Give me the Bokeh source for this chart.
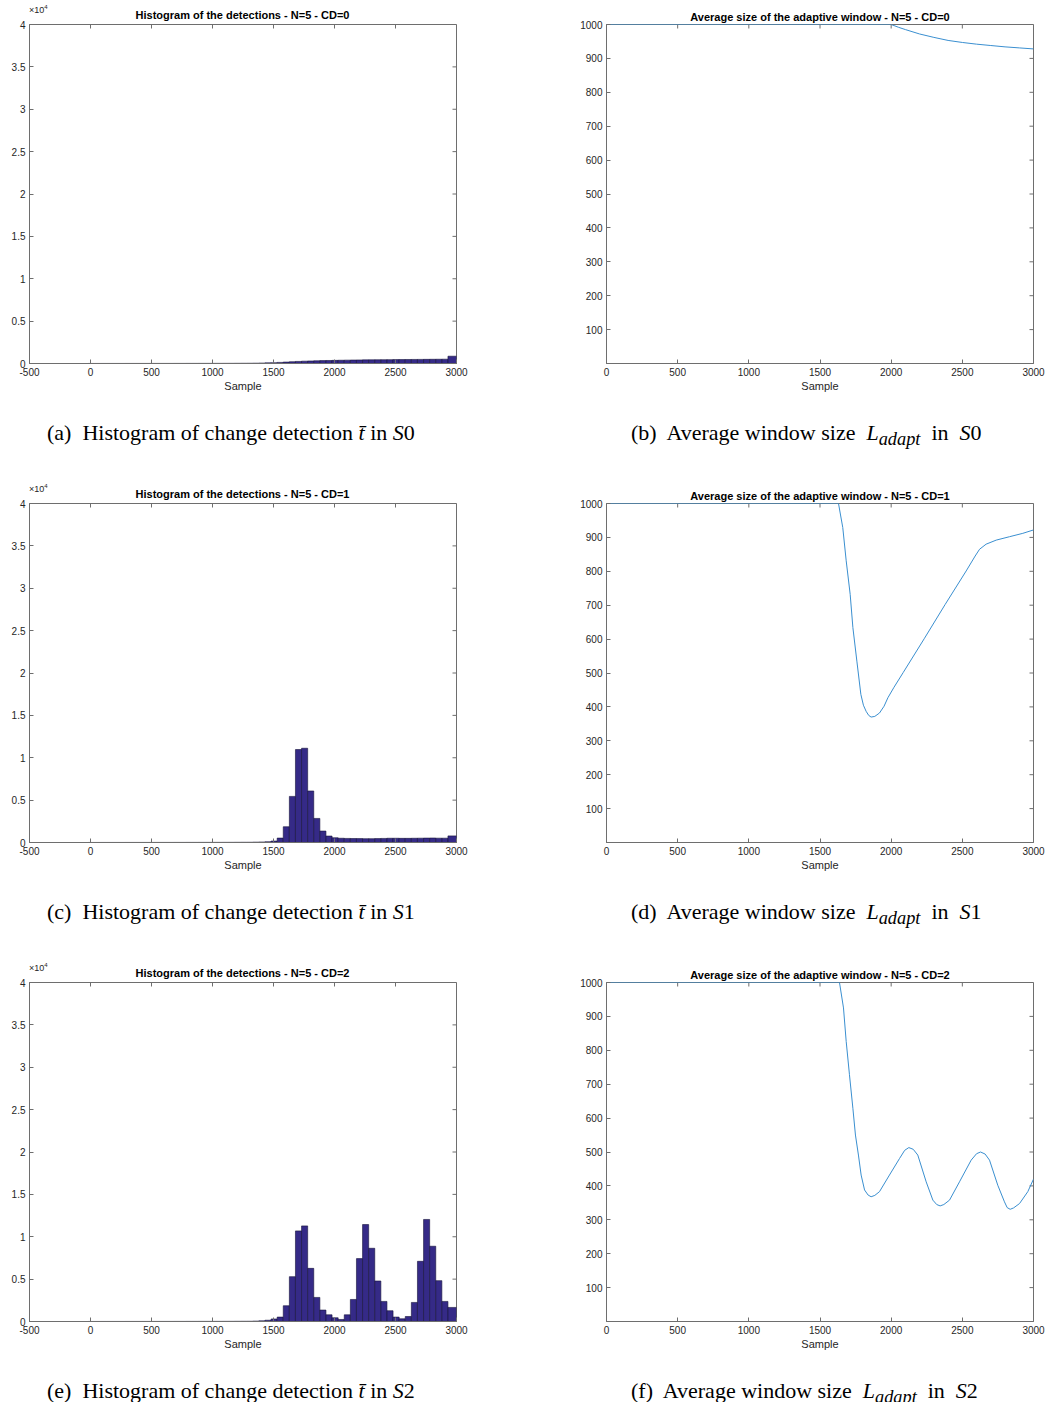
import math
from bokeh.plotting import figure
from bokeh.models import Range1d, FixedTicker, Div
from bokeh.layouts import column, row
from bokeh.embed import file_html
from bokeh.resources import INLINE

# ---------------- data ----------------
# histogram bin edges (samples); last bin runs to 3000
bin_left = list(range(-20, 2931, 50))
bin_right = list(range(30, 2931, 50)) + [3000]

tiny = [5, 5, 6, 6, 7, 7, 8, 8, 9, 9, 10, 10, 11, 11, 12, 12, 13, 14, 15, 16, 17, 18, 20, 22, 25, 28]

counts_cd0 = tiny + [32, 40, 55, 80] + [
    90, 130, 170, 210, 245, 275, 300, 320, 340, 355,
    370, 385, 398, 410, 420, 428, 435, 442, 448, 454,
    460, 466, 472, 478, 484, 490, 496, 502, 510, 860]

counts_cd1 = tiny + [30, 45, 60, 90] + [
    170, 520, 1860, 5440, 10970, 11120, 6080, 2840, 1350, 760,
    560, 500, 480, 470, 460, 450, 450, 460, 480, 500,
    500, 490, 490, 500, 510, 520, 530, 510, 510, 780]

counts_cd2 = tiny + [30, 50, 80, 150] + [
    300, 520, 1860, 5290, 10690, 11280, 6270, 2840, 1350, 790,
    440, 240, 790, 2600, 7420, 11440, 8640, 4780, 2370, 1270,
    520, 320, 590, 2250, 7100, 12040, 8880, 4820, 2370, 1660]

# average adaptive window size
win_x_cd0 = [0, 2000, 2050, 2100, 2200, 2300, 2400, 2500, 2600, 2700, 2800, 2900, 3000]
win_y_cd0 = [1000, 1000, 992, 985, 972, 962, 953, 947, 942, 938, 934, 931, 928]

win_x_cd1 = [0, 1630, 1660, 1684, 1712, 1731, 1759, 1787, 1805, 1824, 1842, 1859, 1885,
             1918, 1950, 1977, 2020, 2084, 2232, 2379, 2527, 2590, 2621, 2667, 2738,
             2831, 2925, 3000]
win_y_cd1 = [1000, 1000, 929, 831, 732, 634, 535, 437, 405, 387, 375, 370, 372,
             382, 402, 427, 458, 501, 601, 702, 801, 845, 865, 880, 892,
             902, 912, 922]

win_x_cd2 = [0, 1637, 1665, 1684, 1707, 1731, 1749, 1770, 1789, 1813, 1838, 1859, 1885,
             1918, 1988, 2059, 2095, 2124, 2155, 2187, 2246, 2293, 2320, 2344, 2370,
             2410, 2480, 2562, 2600, 2628, 2660, 2691, 2749, 2796, 2815, 2836, 2860,
             2902, 2960, 3000]
win_y_cd2 = [1000, 1000, 925, 826, 728, 629, 550, 491, 432, 388, 373, 368, 372,
             383, 432, 481, 505, 513, 508, 491, 412, 358, 345, 341, 345,
             358, 412, 476, 495, 500, 494, 476, 402, 353, 336, 331, 335,
             348, 383, 420]

hist_titles = ["Histogram of the detections - N=5 - CD=0",
               "Histogram of the detections - N=5 - CD=1",
               "Histogram of the detections - N=5 - CD=2"]
win_titles = ["Average size of the adaptive window - N=5 - CD=0",
              "Average size of the adaptive window - N=5 - CD=1",
              "Average size of the adaptive window - N=5 - CD=2"]

hist_xticks = [-500, 0, 500, 1000, 1500, 2000, 2500, 3000]
hist_yticks = [0, 5000, 10000, 15000, 20000, 25000, 30000, 35000, 40000]
hist_ylabels = ["0", "0.5", "1", "1.5", "2", "2.5", "3", "3.5", "4"]
hist_multiplier = "×10<sup style=\"font-size:6px\">4</sup>"
win_xticks = [0, 500, 1000, 1500, 2000, 2500, 3000]
win_yticks = [100, 200, 300, 400, 500, 600, 700, 800, 900, 1000]

captions_left = ["(a)", "(c)", "(e)"]
captions_right = ["(b)", "(d)", "(f)"]
scen = ["0", "1", "2"]

# ---------------- style ----------------
FONT = "Liberation Sans"
SERIF = "Liberation Serif"
AX = "#6e6e6e"
TXT = "#262626"
BAR = "#352a87"
LINE = "#3a8fd0"
HEAD_H = 12


def style_axis(ax, ticks, labels=None):
    ax.ticker = FixedTicker(ticks=ticks)
    ax.major_tick_in = 4
    ax.major_tick_out = 0
    ax.minor_tick_in = 0
    ax.minor_tick_out = 0
    ax.axis_line_color = AX
    ax.major_tick_line_color = AX
    ax.axis_line_width = 1
    ax.major_label_text_font = FONT
    ax.major_label_text_color = TXT
    ax.major_label_text_font_size = "10px"
    ax.major_label_standoff = 4
    if labels is not None:
        ax.major_label_overrides = labels


def base_fig(title, x0, x1, y0, y1, left, right, top, xticks, yticks,
             xlabels=None, ylabels=None):
    p = figure(frame_width=427, frame_height=339,
               x_range=Range1d(x0, x1), y_range=Range1d(y0, y1),
               min_border_left=left, min_border_right=right,
               min_border_top=top, min_border_bottom=37,
               output_backend="svg", toolbar_location=None)
    if title is None:
        p.title_location = None
        p.border_fill_color = None
    else:
        p.title.text = title
        p.title.align = "center"
        p.title.text_font = FONT
        p.title.text_font_size = "11px"
        p.title.text_font_style = "bold"
        p.title.text_color = "#000000"
        p.title.standoff = 4
        p.border_fill_color = "white"
    p.xgrid.visible = False
    p.ygrid.visible = False
    p.outline_line_color = AX
    style_axis(p.xaxis[0], xticks, xlabels)
    style_axis(p.yaxis[0], yticks, ylabels)
    p.xaxis.axis_label = "Sample"
    p.xaxis.axis_label_text_font = FONT
    p.xaxis.axis_label_text_font_size = "11px"
    p.xaxis.axis_label_text_font_style = "normal"
    p.xaxis.axis_label_text_color = TXT
    p.xaxis.axis_label_standoff = 1
    # mirrored inward ticks on the top and right edges of the box
    p.ray(x=xticks, y=[y1] * len(xticks), length=4, length_units="screen",
          angle=-math.pi / 2, line_color=AX, line_width=1)
    p.ray(x=[x1] * len(yticks), y=yticks, length=4, length_units="screen",
          angle=math.pi, line_color=AX, line_width=1)
    p.background_fill_color = "white"
    return p


def hist_header(i):
    html = (
        f'<div style="position:relative;width:523px;height:{HEAD_H}px;overflow:visible;'
        f"font-family:'{FONT}';\">"
        f'<span style="position:absolute;left:29px;top:2px;font-size:9px;line-height:11px;'
        f'color:{TXT};white-space:nowrap;">{hist_multiplier}</span>'
        '<div style="position:absolute;left:29px;width:427px;top:9px;text-align:center;'
        'font-size:11px;font-weight:bold;line-height:13px;color:#000;white-space:nowrap;">'
        f'{hist_titles[i]}</div></div>'
    )
    return Div(text=html, width=523, height=HEAD_H, margin=0,
               styles={"overflow": "visible", "position": "relative", "z-index": "5"})


def hist_fig(i, counts):
    p = base_fig(None, -500, 3000, 0, 40000, 29, 67, 24 - HEAD_H,
                 hist_xticks, hist_yticks,
                 xlabels={t: str(t) for t in hist_xticks},
                 ylabels=dict(zip(hist_yticks, hist_ylabels)))
    p.quad(left=bin_left, right=bin_right, top=counts, bottom=0,
           fill_color=BAR, line_color="#15123a", line_width=0.6)
    return column(hist_header(i), p, spacing=0)


def win_fig(i, xs, ys):
    p = base_fig(win_titles[i], 0, 3000, 0, 1000, 83, 14, 24, win_xticks, win_yticks)
    p.line(xs, ys, line_color=LINE, line_width=1)
    return p


def caption(html, pad_left, w, h):
    return Div(text=html, width=w, height=h, margin=0,
               styles={"font-family": SERIF, "font-size": "22px", "color": "#000",
                       "padding-left": f"{pad_left}px", "padding-top": "21px",
                       "box-sizing": "border-box", "overflow": "hidden",
                       "white-space": "nowrap", "line-height": "24px"})


hist_counts = [counts_cd0, counts_cd1, counts_cd2]
win_data = [(win_x_cd0, win_y_cd0), (win_x_cd1, win_y_cd1), (win_x_cd2, win_y_cd2)]
rows = []
for i in range(3):
    fa = hist_fig(i, hist_counts[i])
    fb = win_fig(i, *win_data[i])
    h = 79 if i < 2 else 44
    ca = caption(f"{captions_left[i]}&nbsp; Histogram of change detection <i>t&#772;</i> in <i>S</i>{scen[i]}", 47, 523, h)
    cb = caption(f"{captions_right[i]}&nbsp; Average window size &nbsp;<i>L<sub>adapt</sub></i>&nbsp; in &nbsp;<i>S</i>{scen[i]}", 108, 524, h)
    rows.append(row(fa, fb))
    rows.append(row(ca, cb))

layout = column(*rows)
open("out.html", "w").write(file_html(layout, INLINE))
